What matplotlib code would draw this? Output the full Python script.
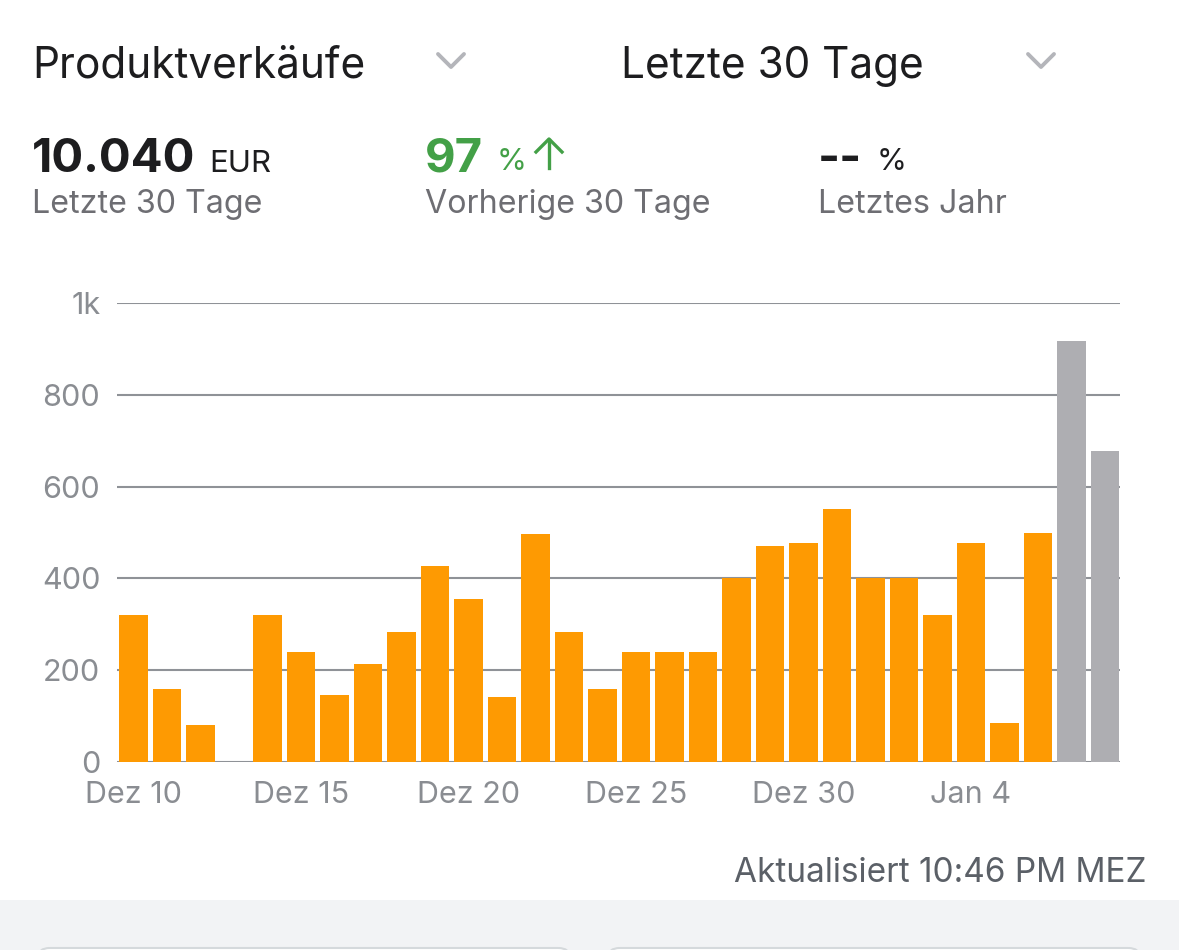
import matplotlib

matplotlib.use("Agg")

import matplotlib.pyplot as plt
from matplotlib.lines import Line2D
from matplotlib.patches import FancyBboxPatch, Rectangle

plt.rcParams["font.family"] = ["Inter", "DejaVu Sans"]

W, H = 1179, 950

# daily sales, Dez 10 .. Jan 8 (last two days shown in gray)
days = [
    "Dez 10", "Dez 11", "Dez 12", "Dez 13", "Dez 14", "Dez 15", "Dez 16", "Dez 17",
    "Dez 18", "Dez 19", "Dez 20", "Dez 21", "Dez 22", "Dez 23", "Dez 24", "Dez 25",
    "Dez 26", "Dez 27", "Dez 28", "Dez 29", "Dez 30", "Dez 31", "Jan 1", "Jan 2",
    "Jan 3", "Jan 4", "Jan 5", "Jan 6", "Jan 7", "Jan 8",
]
sales = [
    320, 160, 80, 0, 320, 240, 145, 213, 284, 426, 355, 141, 497, 283, 160, 240,
    240, 240, 400, 471, 478, 551, 400, 400, 320, 478, 84, 500, 917, 677,
]
pending = [False] * 28 + [True, True]
tick_days = ["Dez 10", "Dez 15", "Dez 20", "Dez 25", "Dez 30", "Jan 4"]
y_ticks = [0, 200, 400, 600, 800, 1000]
y_tick_labels = ["0", "200", "400", "600", "800", "1k"]

ORANGE = "#fe9a02"
GRAY_BAR = "#aeaeb2"
GRID = "#8f9297"
TICK = "#8a8d92"
DARK = "#1d1d1f"
SUB = "#6e6e73"
GREEN = "#43a047"


def px(x, y):
    return x / W, 1 - y / H


fig = plt.figure(figsize=(W / 100, H / 100), dpi=100)
fig.patch.set_facecolor("white")

# header row
fig.text(*px(32, 78), "Produktverkäufe", fontsize=30.5, color=DARK, va="baseline")
fig.text(*px(621, 78), "Letzte 30 Tage", fontsize=30.5, color=DARK, va="baseline")
for cx in (451, 1041):
    fig.add_artist(Line2D([(cx - 13) / W, cx / W, (cx + 13) / W],
                          [1 - 54 / H, 1 - 67 / H, 1 - 54 / H],
                          color="#b4b5ba", lw=2.8, solid_capstyle="round",
                          solid_joinstyle="round"))

# summary numbers
fig.text(*px(32, 172), "10.040", fontsize=34, fontweight="bold", color=DARK, va="baseline")
fig.text(*px(209, 172), "EUR", fontsize=22.5, color=DARK, va="baseline")
fig.text(*px(32, 213), "Letzte 30 Tage", fontsize=23.2, color=SUB, va="baseline")

fig.text(*px(425, 172), "97", fontsize=34, fontweight="bold", color=GREEN, va="baseline")
fig.text(*px(497, 170), "%", fontsize=22, color=GREEN, va="baseline")
fig.add_artist(Line2D([549 / W, 549 / W], [1 - 168 / H, 1 - 140 / H], color=GREEN, lw=2.4))
fig.add_artist(Line2D([536 / W, 549 / W, 562 / W], [1 - 152 / H, 1 - 139 / H, 1 - 152 / H],
                      color=GREEN, lw=2.4))
fig.text(*px(425, 213), "Vorherige 30 Tage", fontsize=23.2, color=SUB, va="baseline")

fig.text(*px(818, 172), "--", fontsize=34, fontweight="bold", color=DARK, va="baseline")
fig.text(*px(877, 170), "%", fontsize=22, color=DARK, va="baseline")
fig.text(*px(818, 213), "Letztes Jahr", fontsize=23.2, color=SUB, va="baseline")

# chart
ax = fig.add_axes([117 / W, (H - 762) / H, (1120 - 117) / W, (762 - 303) / H])
x = list(range(len(days)))
colors = [GRAY_BAR if p else ORANGE for p in pending]
ax.bar(x, sales, width=0.85, color=colors, zorder=3)
ax.set_xlim(-0.49, 29.45)
ax.set_ylim(0, 1000)
ax.set_yticks(y_ticks)
ax.set_yticklabels(y_tick_labels)
ax.set_xticks([days.index(d) for d in tick_days])
ax.set_xticklabels(tick_days)
ax.grid(axis="y", color=GRID, lw=1.5)
ax.set_axisbelow(True)
for side in ax.spines.values():
    side.set_visible(False)
ax.tick_params(axis="y", length=0, pad=12, labelsize=22, labelcolor=TICK)
ax.tick_params(axis="x", length=0, pad=14, labelsize=22, labelcolor=TICK)

fig.text(*px(1146, 882), "Aktualisiert 10:46 PM MEZ", fontsize=24, color="#5b6067",
         ha="right", va="baseline")

# bottom gray band with the tops of the next cards
fig.add_artist(Rectangle((0, 0), 1, 50 / H, transform=fig.transFigure,
                         facecolor="#f2f3f5", edgecolor="none"))
for x0, x1 in ((38, 570), (608, 1140)):
    fig.add_artist(FancyBboxPatch((x0 / W, -20 / H), (x1 - x0) / W, 22 / H,
                                  boxstyle="round,pad=0,rounding_size=0.01",
                                  transform=fig.transFigure, facecolor="white",
                                  edgecolor="#d5d9dc", lw=1.5))

fig.savefig("out.png", dpi=100)
